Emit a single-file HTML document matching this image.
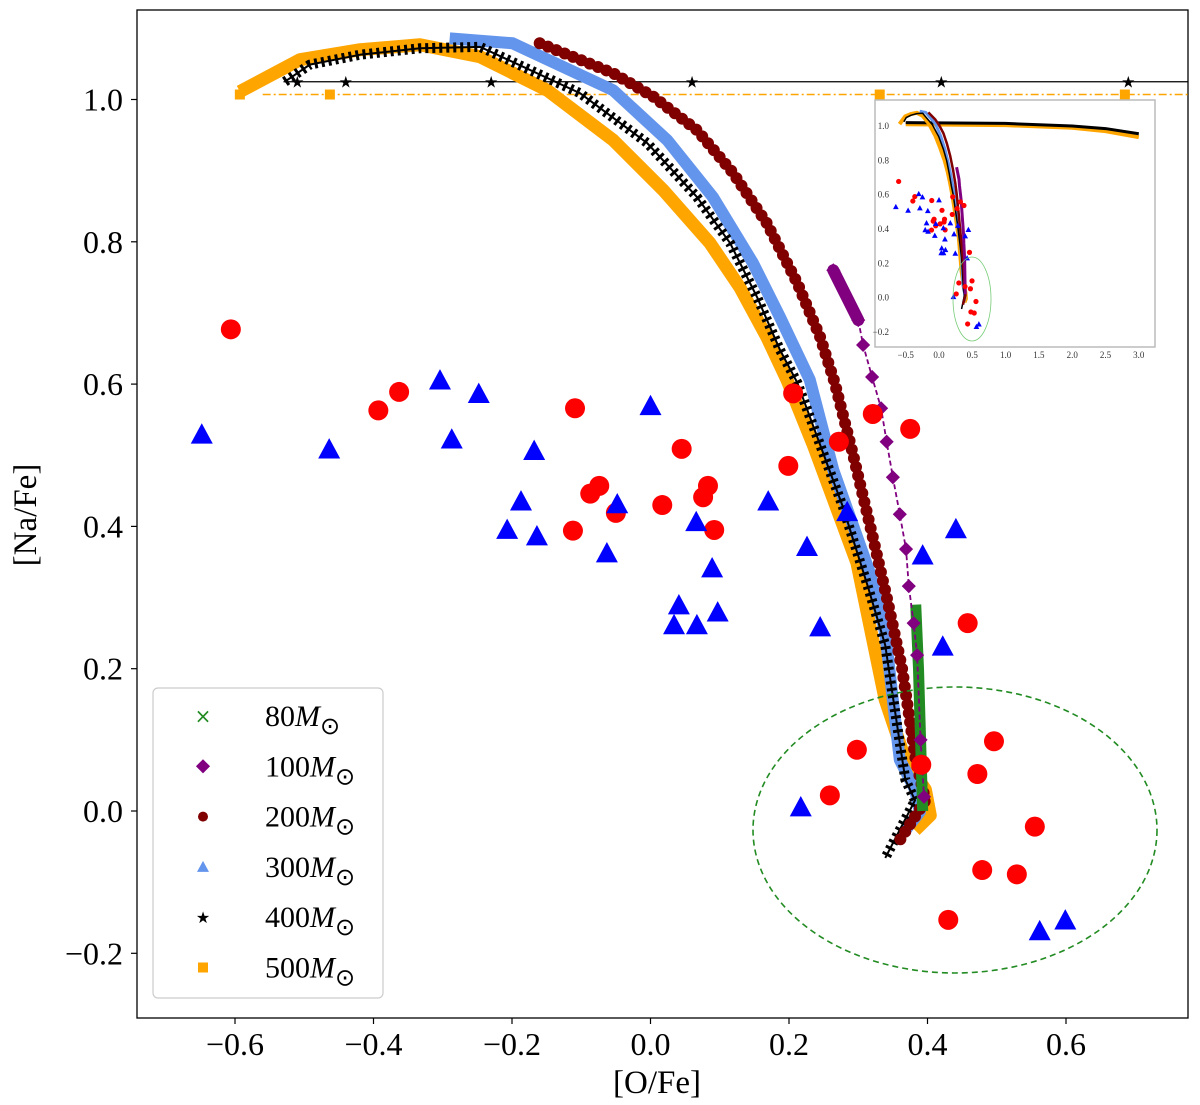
<!DOCTYPE html>
<html><head><meta charset="utf-8"><style>
body{margin:0;background:#fff;}
svg{display:block;font-family:"Liberation Serif",serif;}
</style></head><body>
<svg id="chart" width="1200" height="1105" viewBox="0 0 1200 1105" xmlns="http://www.w3.org/2000/svg">
<rect x="137" y="10" width="1051" height="1008" fill="#fff" stroke="#000" stroke-width="1.3"/>
<g id="xticks"></g>
<g id="yticks"></g>
<g id="models"></g>
<g id="obs"></g>
<g id="inset"></g>
<text x="657" y="1093" font-size="33" text-anchor="middle">[O/Fe]</text>
<text transform="translate(36,515) rotate(-90)" font-size="33" text-anchor="middle">[Na/Fe]</text>
<g id="legend"></g>
</svg>
<script>
const NS="http://www.w3.org/2000/svg";
const xTicks=[-0.6,-0.4,-0.2,0.0,0.2,0.4,0.6];
const yTicks=[-0.2,0.0,0.2,0.4,0.6,0.8,1.0];
const redO=[-0.606,-0.393,-0.363,-0.109,-0.074,-0.087,-0.050,-0.112,0.045,0.083,0.076,0.017,0.092,0.199,0.206,0.321,0.375,0.272,0.458,0.298,0.259,0.496,0.472,0.555,0.479,0.529,0.430,0.391];
const redNa=[0.677,0.563,0.589,0.566,0.457,0.446,0.419,0.394,0.509,0.457,0.441,0.430,0.395,0.485,0.587,0.558,0.537,0.519,0.264,0.086,0.022,0.098,0.052,-0.022,-0.083,-0.089,-0.153,0.065];
const blueO=[-0.648,-0.464,-0.304,-0.248,-0.287,-0.168,-0.187,-0.207,-0.164,-0.063,-0.048,0.000,0.170,0.066,0.226,0.089,0.041,0.097,0.034,0.067,0.245,0.441,0.393,0.422,0.284,0.217,0.562,0.599];
const blueNa=[0.528,0.507,0.604,0.585,0.521,0.505,0.434,0.394,0.385,0.361,0.430,0.568,0.434,0.405,0.370,0.340,0.288,0.278,0.260,0.260,0.257,0.395,0.358,0.230,0.419,0.004,-0.170,-0.155];
const m80O=[0.383,0.387,0.390,0.393];
const m80Na=[0.29,0.20,0.10,0.0];
const m100O=[0.264,0.300,0.307,0.320,0.333,0.341,0.350,0.360,0.369,0.373,0.380,0.385,0.390,0.395];
const m100Na=[0.760,0.690,0.655,0.610,0.566,0.519,0.469,0.417,0.368,0.316,0.264,0.219,0.100,0.020];
const m200O=[-0.160,-0.054,0.004,0.067,0.119,0.168,0.212,0.245,0.266,0.292,0.321,0.341,0.363,0.383,0.397,0.360];
const m200Na=[1.079,1.037,1.004,0.957,0.897,0.826,0.742,0.666,0.602,0.503,0.385,0.301,0.202,0.072,0.015,-0.041];
const m300O=[-0.290,-0.199,-0.054,0.024,0.090,0.148,0.187,0.230,0.264,0.317,0.339,0.350,0.360,0.382,0.389,0.368];
const m300Na=[1.086,1.079,1.013,0.943,0.863,0.770,0.694,0.606,0.479,0.334,0.250,0.156,0.072,0.030,-0.001,-0.027];
const m400O=[-0.528,-0.492,-0.419,-0.333,-0.246,-0.102,-0.005,0.067,0.115,0.154,0.187,0.212,0.278,0.314,0.339,0.355,0.368,0.382,0.339];
const m400Na=[1.025,1.049,1.063,1.072,1.074,1.009,0.939,0.863,0.798,0.722,0.648,0.602,0.427,0.315,0.233,0.128,0.044,0.015,-0.066];
const m500O=[-0.593,-0.506,-0.419,-0.333,-0.246,-0.149,-0.054,0.018,0.086,0.129,0.168,0.197,0.236,0.298,0.339,0.368,0.397,0.404,0.382];
const m500Na=[1.011,1.056,1.070,1.077,1.060,1.013,0.943,0.873,0.798,0.736,0.666,0.606,0.512,0.349,0.156,0.072,0.030,-0.006,-0.027];
const plateau400O=[-0.51,-0.44,-0.23,0.06,0.42,0.69];
const plateau400Na=1.025;
const plateau500O=[-0.593,-0.463,0.331,0.685];
const plateau500Na=1.007;
const legendLabels=["80","100","200","300","400","500"];

const X=v=>650.5+v*692.5, Y=v=>811-v*711.5;
const IX=v=>939+v*66.6, IY=v=>297.7-v*171.7;
function el(tag,attrs,parent){const e=document.createElementNS(NS,tag);for(const k in attrs)e.setAttribute(k,attrs[k]);parent.appendChild(e);return e;}
const g=id=>document.getElementById(id);
const fmt=v=>(v<0?"\u2212":"")+Math.abs(v).toFixed(1);

xTicks.forEach(v=>{
  const t=el("line",{x1:X(v),x2:X(v),y1:1018,y2:1024,stroke:"#000","stroke-width":1.2},g("xticks"));
  
  
  const l=el("text",{x:X(v),y:1055,"font-size":32,"text-anchor":"middle"},g("xticks"));
  
  
  l.textContent=fmt(v);
});
yTicks.forEach(v=>{
  const t=el("line",{x1:131,x2:137,y1:Y(v),y2:Y(v),stroke:"#000","stroke-width":1.2},g("yticks"));
  
  
  const l=el("text",{x:123,y:Y(v)+11,"font-size":32,"text-anchor":"end"},g("yticks"));
  
  
  l.textContent=fmt(v);
});

function pts(xs,ys,fx,fy){return xs.map((v,i)=>fx(v)+","+fy(ys[i])).join(" ");}
function track(parent,name,xs,ys,fx,fy,attrs){
  const p=el("polyline",Object.assign({points:pts(xs,ys,fx,fy),fill:"none","stroke-linejoin":"round"},attrs),parent);
  
  
  return p;
}
function drawModels(parent,fx,fy,s){
  const pl=el("line",{x1:fx(-0.53),x2:1188,y1:fy(plateau400Na),y2:fy(plateau400Na),stroke:"#000","stroke-width":1.3*s},parent);
  
  
  const po=el("line",{x1:fx(-0.56),x2:1188,y1:fy(plateau500Na),y2:fy(plateau500Na),stroke:"orange","stroke-width":1.5*s,"stroke-dasharray":"8 3 2 3"},parent);
  
  
  track(parent,"500-msun-track",m500O,m500Na,fx,fy,{stroke:"orange","stroke-width":13*s});
  track(parent,"300-msun-track",m300O,m300Na,fx,fy,{stroke:"cornflowerblue","stroke-width":12*s});
  track(parent,"400-msun-track",m400O,m400Na,fx,fy,{stroke:"#000","stroke-width":10*s,"stroke-dasharray":"3 "+(4*s)});
  track(parent,"400-msun-line",m400O,m400Na,fx,fy,{stroke:"#000","stroke-width":2*s});
  track(parent,"200-msun-track",m200O,m200Na,fx,fy,{stroke:"#800000","stroke-width":12*s,"stroke-dasharray":"0 "+(9*s),"stroke-linecap":"round"});
  track(parent,"80-msun-track",m80O,m80Na,fx,fy,{stroke:"forestgreen","stroke-width":11*s});
  track(parent,"100-msun-line",m100O,m100Na,fx,fy,{stroke:"purple","stroke-width":1.8*s,"stroke-dasharray":"5 3"});
  track(parent,"100-msun-cluster",m100O.slice(0,2),m100Na.slice(0,2),fx,fy,{stroke:"purple","stroke-width":12*s,"stroke-linecap":"round"});
  m100O.forEach((v,i)=>{
    const d=el("rect",{x:fx(v)-5*s,y:fy(m100Na[i])-5*s,width:10*s,height:10*s,fill:"purple",transform:`rotate(45 ${fx(v)} ${fy(m100Na[i])})`},parent);
    
    
  });
  plateau400O.forEach(v=>{
    const t=el("text",{x:fx(v),y:fy(plateau400Na)+6*s,"font-size":16*s,"text-anchor":"middle","font-family":"DejaVu Sans"},parent);
    
    
    t.textContent="\u2605";
  });
  plateau500O.forEach(v=>{
    const r=el("rect",{x:fx(v)-5*s,y:fy(plateau500Na)-5*s,width:10*s,height:10*s,fill:"orange"},parent);
    
    
  });
}
drawModels(g("models"),X,Y,1);

function drawObs(parent,fx,fy,r){
  redO.forEach((v,i)=>{
    const c=el("circle",{cx:fx(v),cy:fy(redNa[i]),r:r,fill:"red"},parent);
    
    
  });
  blueO.forEach((v,i)=>{
    const x=fx(v),y=fy(blueNa[i]),h=r*1.1;
    const t=el("polygon",{points:`${x},${y-h*1.1} ${x-h},${y+h*0.75} ${x+h},${y+h*0.75}`,fill:"blue"},parent);
    
    
  });
}
drawObs(g("obs"),X,Y,10);
const ell=el("ellipse",{cx:955,cy:830,rx:202,ry:143,fill:"none",stroke:"forestgreen","stroke-width":1.6,"stroke-dasharray":"6 4"},g("obs"));



const ins=g("inset");
const ib=el("rect",{x:875,y:100,width:280,height:247,fill:"#fff",stroke:"#bbb","stroke-width":1.5},ins);


const insetX=[-0.5,0.0,0.5,1.0,1.5,2.0,2.5,3.0], insetY=[-0.2,0.0,0.2,0.4,0.6,0.8,1.0];
insetX.forEach(v=>{const t=el("text",{x:IX(v),y:358,"font-size":9,"text-anchor":"middle",fill:"#333"},ins);
  
  
  t.textContent=fmt(v);});
insetY.forEach(v=>{const t=el("text",{x:889,y:IY(v)+3,"font-size":9,"text-anchor":"end",fill:"#333"},ins);
  
  
  t.textContent=fmt(v);});
const tailO=[-0.5,1.0,2.0,2.5,3.0], tail500=[1.01,1.005,0.99,0.97,0.935], tail400=[1.02,1.015,1.0,0.985,0.955];
track(ins,"inset-500-tail",tailO,tail500,IX,IY,{stroke:"orange","stroke-width":4});
track(ins,"inset-400-tail",tailO,tail400,IX,IY,{stroke:"#000","stroke-width":3});
track(ins,"inset-500-track",m500O,m500Na,IX,IY,{stroke:"orange","stroke-width":4});
track(ins,"inset-300-track",m300O,m300Na,IX,IY,{stroke:"cornflowerblue","stroke-width":3});
track(ins,"inset-400-track",m400O,m400Na,IX,IY,{stroke:"#000","stroke-width":1.5});
track(ins,"inset-200-track",m200O,m200Na,IX,IY,{stroke:"#800000","stroke-width":2.5});
track(ins,"inset-100-track",m100O,m100Na,IX,IY,{stroke:"purple","stroke-width":3});
drawObs(ins,IX,IY,2.6);
const iell=el("ellipse",{cx:972,cy:299,rx:19,ry:42,fill:"none",stroke:"#7c7","stroke-width":0.8},ins);



const lg=g("legend");
const lb=el("rect",{x:153,y:688,width:230,height:310,rx:5,fill:"#fff","fill-opacity":0.85,stroke:"#ccc","stroke-width":1.2},lg);


const lcol=["forestgreen","purple","#800000","cornflowerblue","#000","orange"];
legendLabels.forEach((lab,i)=>{
  const y=716+i*50.3;
  const gr=el("g",{},lg);
  
  
  const c=lcol[i];
  if(i==0){el("text",{x:203,y:y+7,"font-size":20,"text-anchor":"middle",fill:c,"font-family":"DejaVu Sans"},gr).textContent="\u00d7";}
  else if(i==1){el("rect",{x:198,y:y-5,width:10,height:10,fill:c,transform:`rotate(45 203 ${y})`},gr);}
  else if(i==2){el("circle",{cx:203,cy:y,r:5,fill:c},gr);}
  else if(i==3){el("polygon",{points:`203,${y-6} 197,${y+5} 209,${y+5}`,fill:c},gr);}
  else if(i==4){el("text",{x:203,y:y+6,"font-size":16,"text-anchor":"middle",fill:c,"font-family":"DejaVu Sans"},gr).textContent="\u2605";}
  else {el("rect",{x:198,y:y-5,width:10,height:10,fill:c},gr);}
  const t=el("text",{x:265,y:y+10,"font-size":30},gr);
  t.innerHTML=lab+'<tspan font-style="italic">M</tspan><tspan font-size="24" dy="8">\u2299</tspan>';
});
</script>
</body></html>
